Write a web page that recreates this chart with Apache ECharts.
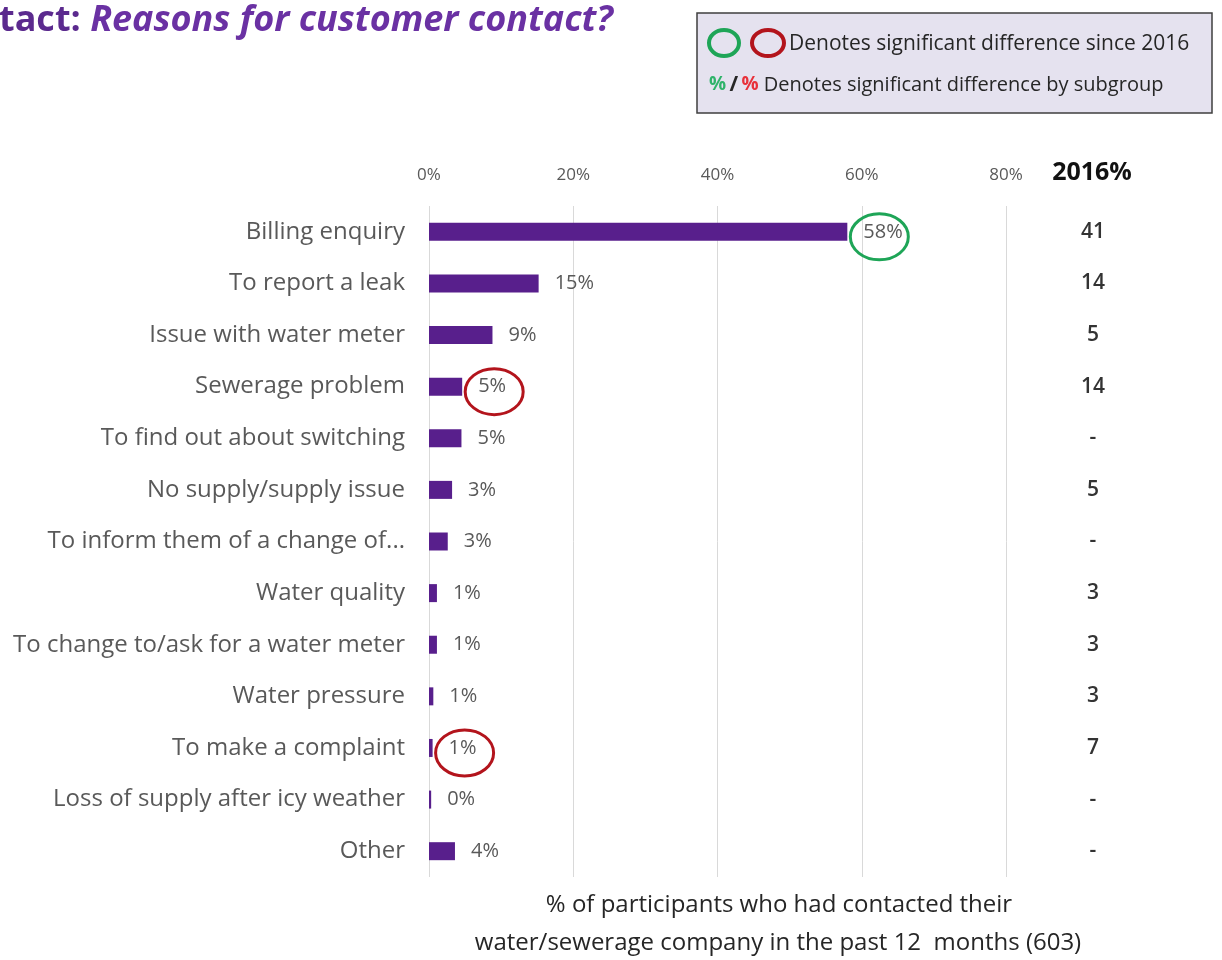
<!DOCTYPE html>
<html>
<head>
<meta charset="utf-8">
<script src="https://cdn.jsdelivr.net/npm/echarts@6/dist/echarts.min.js"></script>
<style>
  html, body { margin: 0; padding: 0; background: #fff; }
  #chart { width: 1222px; height: 960px; }
</style>
</head>
<body>
<div id="chart"></div>
<script>
// Reasons for contacting the water/sewerage company
const categories = [
  'Billing enquiry',
  'To report a leak',
  'Issue with water meter',
  'Sewerage problem',
  'To find out about switching',
  'No supply/supply issue',
  'To inform them of a change of...',
  'Water quality',
  'To change to/ask for a water meter',
  'Water pressure',
  'To make a complaint',
  'Loss of supply after icy weather',
  'Other'
];
// Share of participants (%), current wave
const shares = [58, 15.2, 8.8, 4.6, 4.5, 3.2, 2.6, 1.1, 1.1, 0.6, 0.5, 0.3, 3.6];
// Same reasons in 2016 ('-' = not asked)
const shares2016 = ['41', '14', '5', '14', '-', '5', '-', '3', '3', '3', '7', '-', '-'];
// Significant change since 2016: 'up' (green) / 'down' (red)
const sinceChange = ['up', null, null, 'down', null, null, null, null, null, null, 'down', null, null];
const xTicks = [0, 20, 40, 60, 80];

const FONT = '"Open Sans", "Noto Sans", sans-serif';
const PURPLE = '#581f8c';
const GREEN = '#1ea557';
const RED = '#b3141c';

const chart = echarts.init(document.getElementById('chart'), null, { renderer: 'canvas' });

chart.setOption({
  animation: false,
  backgroundColor: '#ffffff',
  grid: { left: 429, right: 216, top: 206, bottom: 83, containLabel: false },
  xAxis: {
    type: 'value',
    position: 'top',
    min: xTicks[0],
    max: xTicks[xTicks.length - 1],
    interval: 20,
    axisLine: { show: false },
    axisTick: { show: false },
    axisLabel: {
      formatter: v => v + '%',
      color: '#595959',
      fontFamily: FONT,
      fontSize: 17,
      margin: 22
    },
    splitLine: { show: true, lineStyle: { color: '#d9d9d9', width: 1 } }
  },
  yAxis: [
    {
      type: 'category',
      data: categories,
      inverse: true,
      axisLine: { show: false },
      axisTick: { show: false },
      axisLabel: {
        color: '#595959',
        fontFamily: FONT,
        fontSize: 24,
        margin: 24
      }
    },
    {
      type: 'category',
      data: categories,
      inverse: true,
      position: 'right',
      axisLine: { show: false },
      axisTick: { show: false },
      axisLabel: {
        formatter: (v, i) => shares2016[i],
        color: '#333333',
        fontFamily: FONT,
        fontSize: 21,
        fontWeight: 600,
        align: 'center',
        margin: 87
      }
    }
  ],
  series: [
    {
      type: 'bar',
      data: shares,
      barWidth: 18,
      itemStyle: { color: PURPLE },
      label: {
        show: true,
        position: 'right',
        distance: 16,
        formatter: p => Math.round(p.value) + '%',
        color: '#595959',
        fontFamily: FONT,
        fontSize: 20
      }
    }
  ]
});

// Rings around the values that changed significantly since 2016
const rings = [];
sinceChange.forEach((flag, i) => {
  if (!flag) return;
  const x = chart.convertToPixel({ xAxisIndex: 0 }, shares[i]);
  const y = chart.convertToPixel({ yAxisIndex: 0 }, categories[i]);
  rings.push({
    type: 'ellipse',
    shape: { cx: x + 32, cy: y + 5, rx: 29, ry: 23 },
    style: { fill: 'none', stroke: flag === 'up' ? GREEN : RED, lineWidth: 3 },
    z: 10
  });
});

chart.setOption({
  graphic: [
    // heading
    {
      type: 'text',
      x: -1,
      y: 21,
      style: {
        text: '{a|tact: }{b|Reasons for customer contact?}',
        verticalAlign: 'middle',
        rich: {
          a: { fontFamily: FONT, fontSize: 36, fontWeight: 'bold', fill: '#5b2a8e' },
          b: { fontFamily: FONT, fontSize: 36, fontWeight: 'bold', fontStyle: 'italic', fill: '#6a31a3' }
        }
      }
    },
    // key box
    {
      type: 'rect',
      shape: { x: 697, y: 13, width: 515, height: 100 },
      style: { fill: '#e5e2ef', stroke: '#3f3f3f', lineWidth: 1.5 }
    },
    {
      type: 'ellipse',
      shape: { cx: 724, cy: 43, rx: 15, ry: 13 },
      style: { fill: 'none', stroke: GREEN, lineWidth: 4 }
    },
    {
      type: 'ellipse',
      shape: { cx: 768, cy: 43, rx: 16, ry: 13 },
      style: { fill: 'none', stroke: RED, lineWidth: 4 }
    },
    {
      type: 'text',
      x: 789,
      y: 44,
      style: {
        text: 'Denotes significant difference since 2016',
        fontFamily: FONT, fontSize: 21, fill: '#262626', verticalAlign: 'middle'
      }
    },
    {
      type: 'text',
      x: 709,
      y: 85,
      style: {
        text: '{g|%} {k|/} {r|%}{t| Denotes significant difference by subgroup}',
        verticalAlign: 'middle',
        rich: {
          g: { fontFamily: FONT, fontSize: 19, fontWeight: 'bold', fill: '#2fb36a' },
          k: { fontFamily: FONT, fontSize: 21, fontWeight: 'bold', fill: '#262626' },
          r: { fontFamily: FONT, fontSize: 19, fontWeight: 'bold', fill: '#e8313a' },
          t: { fontFamily: FONT, fontSize: 20, fill: '#262626' }
        }
      }
    },
    // 2016 column header
    {
      type: 'text',
      x: 1092,
      y: 173,
      style: {
        text: '2016%', fontFamily: FONT, fontSize: 25, fontWeight: 'bold', fill: '#111111',
        align: 'center', verticalAlign: 'middle'
      }
    },
    // axis caption
    {
      type: 'text',
      x: 779,
      y: 905,
      style: {
        text: '% of participants who had contacted their',
        fontFamily: FONT, fontSize: 24, fill: '#262626',
        align: 'center', verticalAlign: 'middle'
      }
    },
    {
      type: 'text',
      x: 778,
      y: 943,
      style: {
        text: 'water/sewerage company in the past 12  months (603)',
        fontFamily: FONT, fontSize: 24, fill: '#262626',
        align: 'center', verticalAlign: 'middle'
      }
    }
  ].concat(rings)
});
</script>
</body>
</html>
